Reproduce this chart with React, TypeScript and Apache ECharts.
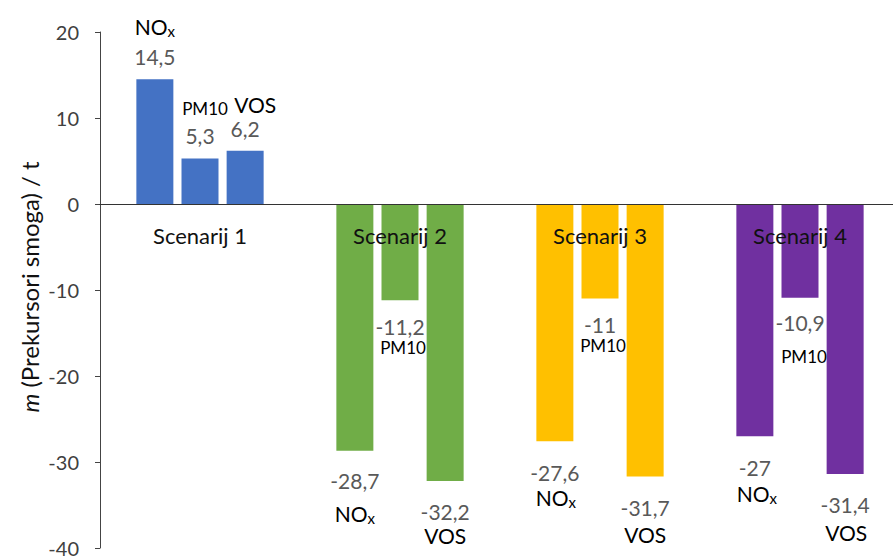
import React, { useEffect, useRef } from "react";
import * as echarts from "echarts";

const categories = ["Scenarij 1", "Scenarij 2", "Scenarij 3", "Scenarij 4"];
const seriesNames = ["NOx", "PM10", "VOS"];
const noxValues = [14.5, -28.7, -27.6, -27];
const pm10Values = [5.3, -11.2, -11, -10.9];
const vosValues = [6.2, -32.2, -31.7, -31.4];
const scenarioColors = ["#4472C4", "#70AD47", "#FFC000", "#7030A0"];
const yMin = -40;
const yMax = 20;
const yInterval = 10;

// label placement (style only): distance from bar end to value centre, gap between value and name centres, name x shift
const labelLayout: Record<string, { a: number; gap: number; ndx: number }[]> = {
  NOx: [
    { a: 23, gap: 30, ndx: 0 },
    { a: 30, gap: 33, ndx: 0 },
    { a: 31, gap: 25, ndx: 1 },
    { a: 31, gap: 26, ndx: 2 },
  ],
  PM10: [
    { a: 23, gap: 27, ndx: 5 },
    { a: 26, gap: 21, ndx: 3 },
    { a: 26, gap: 21, ndx: 3 },
    { a: 25, gap: 34, ndx: 4 },
  ],
  VOS: [
    { a: 22, gap: 24, ndx: 10 },
    { a: 31, gap: 24, ndx: 0 },
    { a: 31, gap: 27, ndx: 0 },
    { a: 30, gap: 28, ndx: 1 },
  ],
};

const FONT = "Lato";
const NAME_LH = 24;
const GRID_TOP = 32;
const GRID_H = 516;

function fmt(v: number) {
  return String(v).replace(".", ",");
}

function nameTokens(name: string) {
  if (name === "NOx") return "{n|NO}{s|x}";
  if (name === "PM10") return "{p|PM10}";
  return "{n|VOS}";
}

function buildData(name: string, values: number[]) {
  return values.map((v, i) => {
    const L = labelLayout[name][i];
    const hv = 2 * L.gap - NAME_LH;
    const pad = [0, 0, 0, 2 * L.ndx];
    const rich = {
      v: { fontFamily: FONT, fontSize: 21, color: "#595959", lineHeight: hv },
      n: { fontFamily: FONT, fontSize: 21, color: "#000", lineHeight: NAME_LH, padding: pad },
      p: { fontFamily: FONT, fontSize: 17, color: "#000", lineHeight: NAME_LH, padding: pad },
      s: { fontFamily: FONT, fontSize: 15, color: "#000", lineHeight: 10, verticalAlign: "bottom" },
    };
    const positive = v >= 0;
    return {
      value: v,
      itemStyle: { color: scenarioColors[i] },
      label: {
        show: true,
        position: positive ? "top" : "bottom",
        distance: 0,
        offset: [0, positive ? -L.a + hv / 2 : L.a - hv / 2],
        align: "center",
        formatter: positive
          ? `${nameTokens(name)}\n{v|${fmt(v)}}`
          : `{v|${fmt(v)}}\n${nameTokens(name)}`,
        rich,
      },
    };
  });
}

export default function App() {
  const ref = useRef<HTMLDivElement>(null);
  useEffect(() => {
    if (!ref.current) return;
    const chart = echarts.init(ref.current, undefined, { renderer: "svg" });
    const allValues = [noxValues, pm10Values, vosValues];
    // distance from the grid bottom up to the value 0, so the category axis sits on the zero line
    const zeroOffset = (GRID_H * (0 - yMin)) / (yMax - yMin);
    chart.setOption({
      animation: false,
      backgroundColor: "#fff",
      grid: { left: 100, top: GRID_TOP, width: 800, height: GRID_H, outerBoundsMode: "none", containLabel: false },
      xAxis: {
        type: "category",
        data: categories,
        z: 10,
        position: "bottom",
        offset: -zeroOffset,
        axisLine: { show: true, onZero: false, lineStyle: { color: "#333", width: 1 } },
        axisTick: { show: false },
        axisLabel: {
          fontFamily: FONT,
          fontSize: 22,
          color: "#111",
          margin: 20,
          lineHeight: 22,
        },
        splitLine: { show: false },
      },
      yAxis: {
        type: "value",
        min: yMin,
        max: yMax,
        interval: yInterval,
        axisLine: { show: true, lineStyle: { color: "#444", width: 1 } },
        axisTick: { show: true, length: 5, lineStyle: { color: "#444" } },
        axisLabel: { fontFamily: FONT, fontSize: 20, color: "#404040", margin: 21 },
        splitLine: { show: false },
      },
      graphic: [
        {
          type: "text",
          x: 29,
          y: 287,
          rotation: Math.PI / 2,
          style: {
            text: "{i|m} (Prekursori smoga) / t",
            fontFamily: FONT,
            fontSize: 24,
            fill: "#111",
            align: "center",
            verticalAlign: "middle",
            rich: {
              i: { fontFamily: FONT, fontSize: 24, fontStyle: "italic", fill: "#111" },
            },
          },
        },
      ],
      series: seriesNames.map((name, si) => ({
        type: "bar",
        name,
        barWidth: 37,
        barGap: "22%",
        data: buildData(name, allValues[si]),
      })),
    });
    return () => chart.dispose();
  }, []);
  return <div ref={ref} style={{ width: 893, height: 559, position: "absolute", left: 0, top: 0 }} />;
}
